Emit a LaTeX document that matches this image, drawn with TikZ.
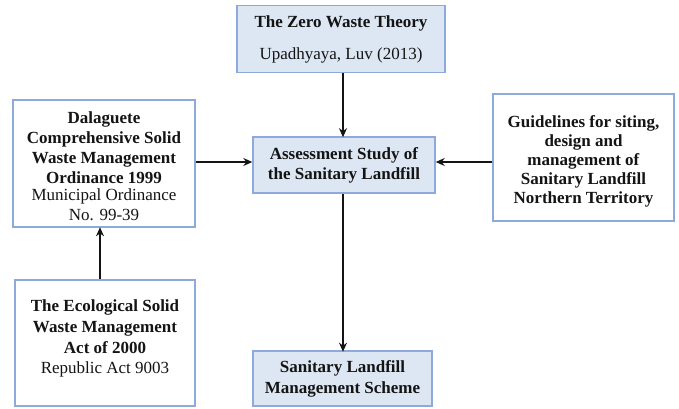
\documentclass[tikz,border=0pt]{standalone}
\usepackage{fontspec}
\setmainfont{Liberation Serif}
\usetikzlibrary{arrows.meta}
\definecolor{boxedge}{HTML}{8EA9DB}
\definecolor{boxfill}{HTML}{DDE7F4}
\definecolor{ink}{HTML}{141414}
\tikzset{
  txt/.style={align=center, inner sep=0pt, text=ink, font=\fontsize{17}{20}\selectfont},
  box/.style={txt, draw=boxedge, line width=1.4pt},
  bluebox/.style={box, fill=boxfill},
  whitebox/.style={box, fill=white},
  arr/.style={draw=ink, line width=1.5pt, -{Stealth[length=9pt,width=8pt]}}
}
\begin{document}
\begin{tikzpicture}[x=1pt,y=-1pt]
\useasboundingbox (0,0) rectangle (679,409);
\node[bluebox, minimum width=208pt, minimum height=67pt] (top) at (341,39)
  {\textbf{The Zero Waste Theory}\\[12pt]Upadhyaya, Luv (2013)};
\node[bluebox, minimum width=182pt, minimum height=56pt] (cen) at (344,165)
  {\textbf{Assessment Study of}\\\textbf{the Sanitary Landfill}};
\node[bluebox, minimum width=179pt, minimum height=55pt] (bot) at (342.5,378.5)
  {\textbf{Sanitary Landfill}\\[1pt]\textbf{Management Scheme}};
\node[whitebox, minimum width=182pt, minimum height=127pt] (left) at (104,163.5) {};
\node[txt] (lefttext) at (104,166.5)
  {\textbf{Dalaguete}\\\textbf{Comprehensive Solid}\\\textbf{Waste Management}\\\textbf{Ordinance 1999}\\[-3pt]Municipal Ordinance\\No. 99-39};
\node[whitebox, minimum width=181pt, minimum height=127pt] (right) at (583.5,157.5) {};
\node[txt] (righttext) at (583.5,161.5)
  {\textbf{Guidelines for siting,}\\[-1pt]\textbf{design and}\\[-1pt]\textbf{management of}\\[-1pt]\textbf{Sanitary Landfill}\\[-1pt]\textbf{Northern Territory}};
\node[whitebox, minimum width=180pt, minimum height=126pt] (bl) at (105,343) {};
\node[txt] (bltext) at (105,338)
  {\textbf{The Ecological Solid}\\[1pt]\textbf{Waste Management}\\[1pt]\textbf{Act of 2000}\\Republic Act 9003};
\coordinate (ay) at (0,162);
\draw[arr] (cen.north |- top.south) ++(-1,0) -- ++(0,64);
\draw[arr] (left.east |- ay) -- (cen.west |- ay);
\draw[arr] (right.west |- ay) -- (cen.east |- ay);
\draw[arr] (cen.south) ++(-1,0) -- ++(0,158);
\draw[arr] (bl.north) ++(-5,0) -- ++(0,-52);
\end{tikzpicture}
\end{document}
